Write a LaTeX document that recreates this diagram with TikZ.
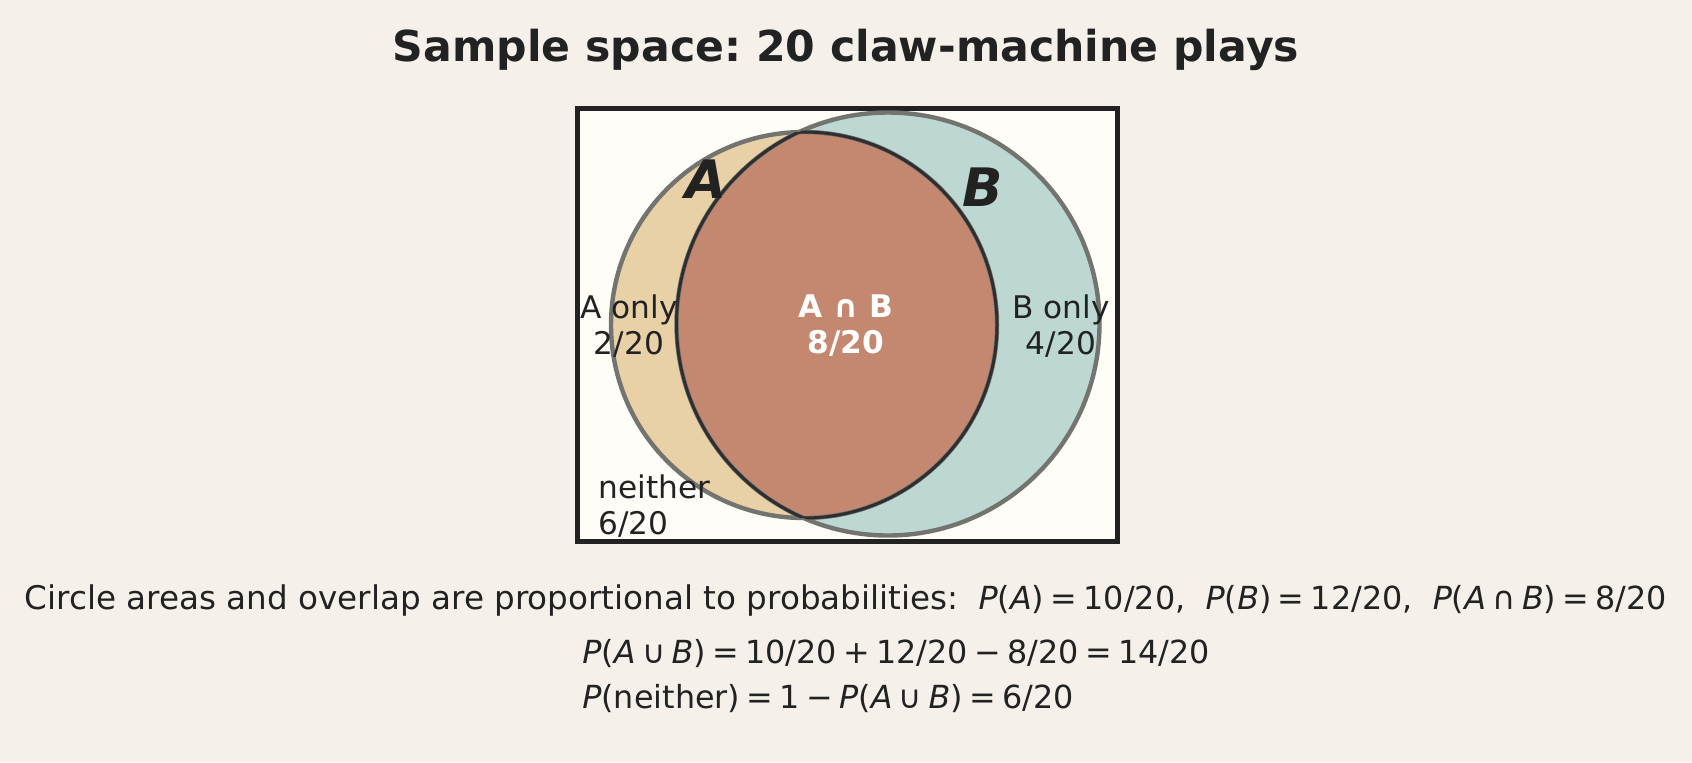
\documentclass[tikz,border=0pt]{standalone}
\usepackage{fontspec}
\setmainfont{DejaVu Sans}
\usetikzlibrary{positioning}
\definecolor{paper}{HTML}{F5F1EA}
\definecolor{boxfill}{HTML}{FFFDF8}
\definecolor{ink}{HTML}{222222}
\definecolor{afill}{HTML}{E8D1A6}
\definecolor{bfill}{HTML}{BDD7D3}
\definecolor{abfill}{HTML}{C4876F}
\definecolor{rim}{HTML}{73736F}
\definecolor{lensrim}{HTML}{2E2E2E}
\newcommand{\mi}[1]{\textit{#1}}
\newcommand{\rl}[1]{\hspace{0.2em}#1\hspace{0.2em}}
\frenchspacing

\begin{document}
\begin{tikzpicture}[x=0.5pt,y=-0.5pt,
    lbl/.style={font=\fontsize{15.6}{18}\selectfont,text=ink,align=center,inner sep=0pt},
    mathline/.style={font=\fontsize{15.9}{18}\selectfont,text=ink,inner sep=0pt},
    setname/.style={font=\fontsize{26.5}{30}\selectfont\bfseries\itshape,text=ink,inner sep=0pt},
    rimline/.style={draw=rim,line width=2.2pt},
    lensline/.style={draw=lensrim,line width=1.5pt}]
    % page and sample space frame
    \fill[paper] (0,0) rectangle (1692,762);
    \useasboundingbox (0,0) rectangle (1692,762);
    \draw[ink,line width=2.5pt,fill=boxfill] (577,108) rectangle (1117,541);
    % the two events and their overlap
    \fill[afill] (804,325) circle[radius=96.5pt];
    \fill[bfill] (888,324) circle[radius=105.75pt];
    \begin{scope}
        \clip (888,324) circle[radius=105.75pt];
        \fill[abfill] (804,325) circle[radius=96.5pt];
    \end{scope}
    \draw[rimline] (804,325) circle[radius=96.5pt];
    \draw[rimline] (888,324) circle[radius=105.75pt];
    \begin{scope}
        \clip (888,324) circle[radius=105.75pt];
        \draw[lensline] (804,325) circle[radius=96.5pt];
    \end{scope}
    \begin{scope}
        \clip (804,325) circle[radius=96.5pt];
        \draw[lensline] (888,324) circle[radius=105.75pt];
    \end{scope}

    \node[font=\fontsize{21.3}{26}\selectfont\bfseries,text=ink] (title) at (846,50) {Sample space: 20 claw-machine plays};

    \node[setname] (nameA) at (706,179) {A};
    \node[setname] (nameB) at (983,187) {B};
    \node[lbl] (onlyA) at (629,326) {A only\\2/20};
    \node[lbl] (onlyB) at (1061,326) {B only\\4/20};
    \node[lbl,text=white,font=\fontsize{15.6}{18}\selectfont\bfseries] (both) at (846,326) {A ∩ B\\8/20};
    \node[lbl,align=left,anchor=west] (neither) at (598,506) {neither\\6/20};

    \node[mathline] (note) at (846,600) {{\fontsize{16.3}{18}\selectfont Circle areas and overlap are proportional to probabilities:}\ \ \mi{P}(\mi{A})\rl{=}10/20,\ \ \mi{P}(\mi{B})\rl{=}12/20,\ \ \mi{P}(\mi{A}\rl{∩}\mi{B})\rl{=}8/20};
    \node[mathline,anchor=west] (union) at (582,654) {\mi{P}(\mi{A}\rl{∪}\mi{B})\rl{=}10/20\rl{+}12/20\rl{−}8/20\rl{=}14/20};
    \node[mathline,anchor=west] (none) at (582,699) {\mi{P}(neither)\rl{=}1\rl{−}\mi{P}(\mi{A}\rl{∪}\mi{B})\rl{=}6/20};
\end{tikzpicture}
\end{document}
